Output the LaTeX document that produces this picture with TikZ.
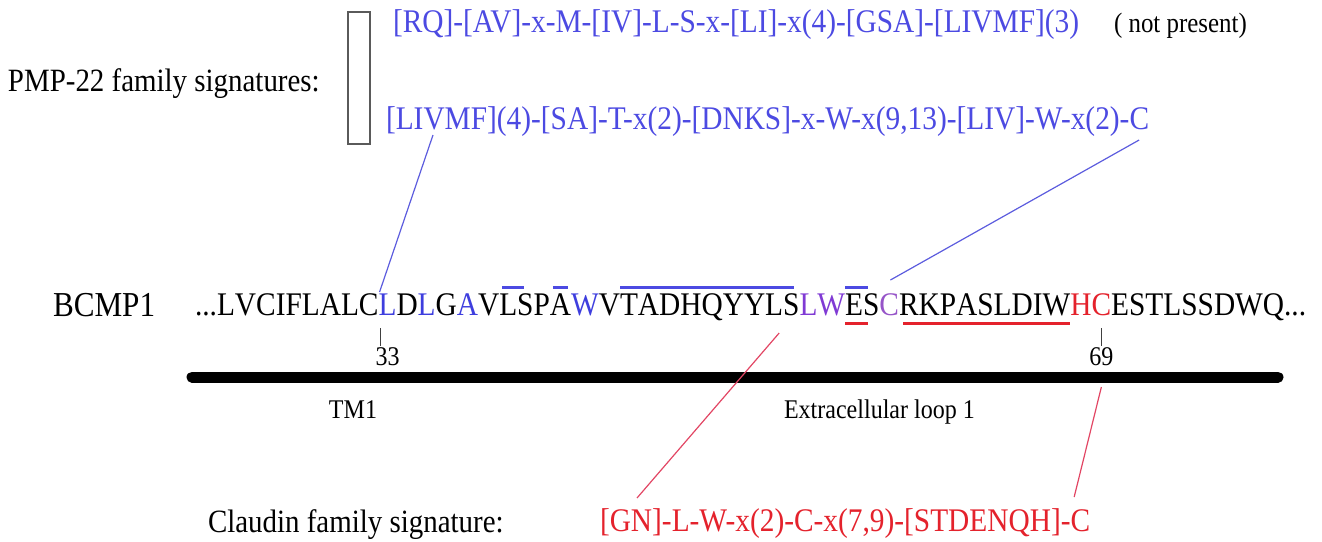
\documentclass[tikz,border=0pt]{standalone}
\usepackage{fontspec}
\setmainfont{Liberation Serif}[FakeStretch=0.89]
\usetikzlibrary{calc}

\definecolor{sigblue}{RGB}{76,74,226}
\definecolor{resblue}{RGB}{62,62,222}
\definecolor{respurple}{RGB}{128,58,212}
\definecolor{respurpleC}{RGB}{150,84,200}
\definecolor{resred}{RGB}{228,34,44}
\definecolor{linkblue}{RGB}{92,92,222}
\definecolor{linkred}{RGB}{226,70,100}
\definecolor{boxgray}{RGB}{90,90,90}

\tikzset{
  nametext/.style={font=\fontsize{35}{42}\selectfont, inner sep=0pt, outer sep=0pt},
  seqtext/.style={font=\fontsize{33}{40}\selectfont, inner sep=0pt, outer sep=0pt},
  famtext/.style={font=\fontsize{32.5}{39}\selectfont, inner sep=0pt, outer sep=0pt},
  notetext/.style={font=\fontsize{28}{34}\selectfont, inner sep=0pt, outer sep=0pt},
  numtext/.style={font=\fontsize{27}{32}\selectfont, inner sep=0pt, outer sep=0pt},
  regiontext/.style={font=\fontsize{27}{32}\selectfont, inner sep=0pt, outer sep=0pt},
  residue/.style={seqtext, anchor=base west},
  overbar/.style={line width=3pt, sigblue},
  underbar/.style={line width=3pt, resred},
  bluelink/.style={linkblue, line width=1.2pt},
  redlink/.style={linkred, line width=1.2pt},
  tickline/.style={black!75, line width=1pt},
}

\begin{document}
\begin{tikzpicture}[x=1pt, y=-1pt]
\useasboundingbox (0,0) rectangle (1322,541);

% PMP-22 signatures
\node[famtext, anchor=base west] (pmplabel) at (8,91) {PMP-22 family signatures:};
\draw[boxgray, line width=1.5pt] (348,12) rectangle (370,144);
\node[seqtext, anchor=base west, text=sigblue] (sig1) at (393,32)
  {[RQ]-[AV]-x-M-[IV]-L-S-x-[LI]-x(4)-[GSA]-[LIVMF](3)};
\node[notetext, anchor=base west] (absent) at (1114,32) {( not present)};
\node[seqtext, anchor=base west, text=sigblue] (sig2) at (386,129)
  {[LIVMF](4)-[SA]-T-x(2)-[DNKS]-x-W-x(9,13)-[LIV]-W-x(2)-C};

% protein name and sequence, one node per residue
\node[nametext, anchor=base west] (bcmp) at (53,316) {BCMP1};
\node[residue] (s0) at (195,315) {...};
\foreach \r/\c [count=\i, remember=\i as \j (initially 0)] in {
  L/black, V/black, C/black, I/black, F/black, L/black, A/black, L/black, C/black,
  L/resblue, D/black, L/resblue, G/black, A/resblue,
  V/black, L/black, S/black, P/black, A/black, W/resblue,
  V/black, T/black, A/black, D/black, H/black, Q/black, Y/black, Y/black, L/black, S/black,
  L/respurple, W/respurple, E/black, S/black, C/respurpleC,
  R/black, K/black, P/black, A/black, S/black, L/black, D/black, I/black, W/black,
  H/resred, C/resred,
  E/black, S/black, T/black, L/black, S/black, S/black, D/black, W/black, Q/black}
  \node[residue, text=\c] (s\i) at (s\j.base east) {\r};
\node[residue] (s56) at (s55.base east) {...};

% marks above and below the residues
\draw[overbar] ($(s16.base west)+(3,-28)$) -- ($(s16.base east)+(7,-28)$);
\draw[overbar] ($(s19.base west)+(3,-28)$) -- ($(s19.base east)+(-3,-28)$);
\draw[overbar] ($(s22.base west)+(0,-28)$) -- ($(s30.base east)+(-6,-28)$);
\draw[overbar] ($(s33.base west)+(0,-28)$) -- ($(s33.base east)+(5,-28)$);
\draw[underbar] ($(s33.base west)+(0,8)$) -- ($(s33.base east)+(5,8)$);
\draw[underbar] ($(s36.base west)+(4,8)$) -- ($(s44.base east)+(0,8)$);

% residue numbers
\draw[tickline] ($(s10.base west)+(2,13)$) -- ($(s10.base west)+(2,31)$);
\node[numtext, anchor=base] (n33) at ($(s10.base)+(0,50)$) {33};
\draw[tickline] ($(s46.base)+(0,13)$) -- ($(s46.base)+(0,31)$);
\node[numtext, anchor=base] (n69) at ($(s46.base)+(0,50)$) {69};

% membrane bar and region labels
\coordinate (barL) at (192,377);
\coordinate (barR) at (1278,377);
\draw[line width=11pt, line cap=round] (barL) -- (barR);
\node[regiontext, anchor=base] (tm) at (353,418) {TM1};
\node[regiontext, anchor=base west] (ecl) at (784,418) {Extracellular loop 1};

% Claudin signature
\node[famtext, anchor=base west] (cllabel) at (208,532) {Claudin family signature:};
\node[seqtext, anchor=base west, text=resred] (clsig) at (600,531)
  {[GN]-L-W-x(2)-C-x(7,9)-[STDENQH]-C};

% links between signatures and residues
\coordinate (sig2a) at ($(sig2.base west)+(47,6)$);
\coordinate (res10a) at ($(s10.base west)+(1,-23)$);
\draw[bluelink] (sig2a) -- (res10a);
\coordinate (sig2b) at ($(sig2.base east)+(-10,11)$);
\coordinate (res35a) at ($(s35.base west)+(11,-35)$);
\draw[bluelink] (sig2b) -- (res35a);
\coordinate (res30a) at ($(s30.base west)+(-4,18)$);
\coordinate (clsiga) at ($(clsig.base west)+(37,-33)$);
\draw[redlink] (res30a) -- (clsiga);
\coordinate (n69a) at ($(n69.base)+(0,22)$);
\coordinate (clsigb) at ($(clsig.base east)+(-16,-34)$);
\draw[redlink] (n69a) -- (clsigb);
\end{tikzpicture}
\end{document}
